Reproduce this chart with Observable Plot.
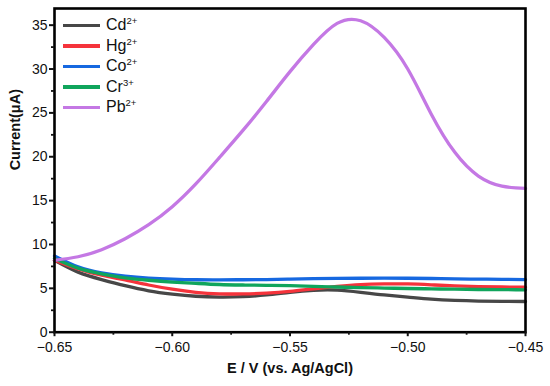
<!DOCTYPE html>
<html>
<head>
<meta charset="utf-8">
<script src="https://cdn.jsdelivr.net/npm/d3@7"></script>
<script src="https://cdn.jsdelivr.net/npm/@observablehq/plot@0.6"></script>
<style>
  html, body { margin: 0; padding: 0; background: #fff; }
  #wrap { position: relative; width: 550px; height: 386px; font-family: "Liberation Sans", Arial, sans-serif; }
  #legend { position: absolute; left: 63px; top: 15px; font-size: 16px; color: #111; }
  #legend .row { display: flex; align-items: center; height: 20.5px; }
  #legend .sw { width: 37px; height: 3.5px; margin-right: 6px; }
  #legend sup { font-size: 9.5px; vertical-align: 6px; line-height: 0; }
</style>
</head>
<body>
<div id="wrap"><div id="legend"></div></div>
<script>
// Potential (V vs. Ag/AgCl)
const potential = [-0.65,-0.64,-0.63,-0.62,-0.61,-0.60,-0.59,-0.58,-0.57,-0.56,-0.55,-0.54,-0.53,-0.52,-0.51,-0.50,-0.49,-0.48,-0.47,-0.46,-0.45];
// Currents (µA)
const cd = [8.2,6.85,6.0,5.3,4.72,4.35,4.1,4.0,4.05,4.25,4.55,4.78,4.8,4.55,4.25,4.0,3.76,3.62,3.55,3.52,3.5];
const hg = [8.2,7.2,6.5,5.95,5.38,4.9,4.55,4.38,4.36,4.45,4.65,4.95,5.22,5.42,5.5,5.5,5.4,5.28,5.2,5.15,5.13];
const co = [8.7,7.45,6.75,6.38,6.17,6.05,5.98,5.97,5.98,6.0,6.05,6.1,6.13,6.15,6.16,6.15,6.12,6.08,6.05,6.02,6.0];
const cr = [8.4,7.3,6.65,6.2,5.92,5.72,5.57,5.44,5.38,5.34,5.3,5.22,5.15,5.08,5.03,4.98,4.94,4.9,4.87,4.85,4.83];
const pb = [8.2,8.6,9.4,10.65,12.25,14.3,16.9,19.9,23.0,26.3,29.7,32.8,35.2,35.5,33.6,30.0,24.85,20.5,17.8,16.65,16.4];

const seriesNames = ["Cd", "Hg", "Co", "Cr", "Pb"];
const seriesCharge = ["2+", "2+", "2+", "3+", "2+"];
const seriesColors = ["#474747", "#f5333b", "#1668e0", "#10a55c", "#c478e4"];
const seriesValues = [cd, hg, co, cr, pb];

const xTicks = [-0.65, -0.60, -0.55, -0.50, -0.45];
const xMinor = [-0.625, -0.575, -0.525, -0.475];
const yTicks = [0, 5, 10, 15, 20, 25, 30, 35];
const yMinor = [2.5, 7.5, 12.5, 17.5, 22.5, 27.5, 32.5];

const rows = [];
seriesNames.forEach((name, i) => {
  potential.forEach((x, j) => rows.push({series: name, x, y: seriesValues[i][j]}));
});

const fmt = d3.format(".2f");
const chart = Plot.plot({
  width: 550,
  height: 386,
  marginLeft: 54,
  marginRight: 25,
  marginTop: 8,
  marginBottom: 54.3,
  style: {fontFamily: "Liberation Sans, Arial, sans-serif", fontSize: "14px", color: "#111", background: "#fff"},
  x: {domain: [-0.65, -0.45]},
  y: {domain: [0, 36.9]},
  color: {domain: seriesNames, range: seriesColors},
  marks: [
    Plot.line(rows, {x: "x", y: "y", z: "series", stroke: "series", strokeWidth: 3.3, curve: "natural"}),
    Plot.frame({stroke: "#000", strokeWidth: 2.6}),
    Plot.axisX({ticks: xTicks, tickFormat: fmt, tickSize: 4.5, tickPadding: 5, strokeWidth: 2, label: null, fontSize: 14}),
    Plot.axisX({ticks: xMinor, tickSize: 3, strokeWidth: 1.8, text: null, label: null}),
    Plot.axisY({ticks: yTicks, tickFormat: d3.format("d"), tickSize: 5, tickPadding: 2, strokeWidth: 2, label: null, fontSize: 14}),
    Plot.axisY({ticks: yMinor, tickSize: 3, strokeWidth: 1.8, text: null, label: null}),
    Plot.text(["E / V (vs. Ag/AgCl)"], {text: d => d, frameAnchor: "bottom", dy: 41, fontWeight: "bold", fontSize: 14.5}),
    Plot.text(["Current(μA)"], {text: d => d, frameAnchor: "left", dx: -39, rotate: -90, fontWeight: "bold", fontSize: 14.5})
  ]
});
document.getElementById("wrap").prepend(chart);

const legend = document.getElementById("legend");
seriesNames.forEach((name, i) => {
  const row = document.createElement("div");
  row.className = "row";
  row.innerHTML = `<span class="sw" style="background:${seriesColors[i]}"></span><span>${name}<sup>${seriesCharge[i]}</sup></span>`;
  legend.appendChild(row);
});
</script>
</body>
</html>
